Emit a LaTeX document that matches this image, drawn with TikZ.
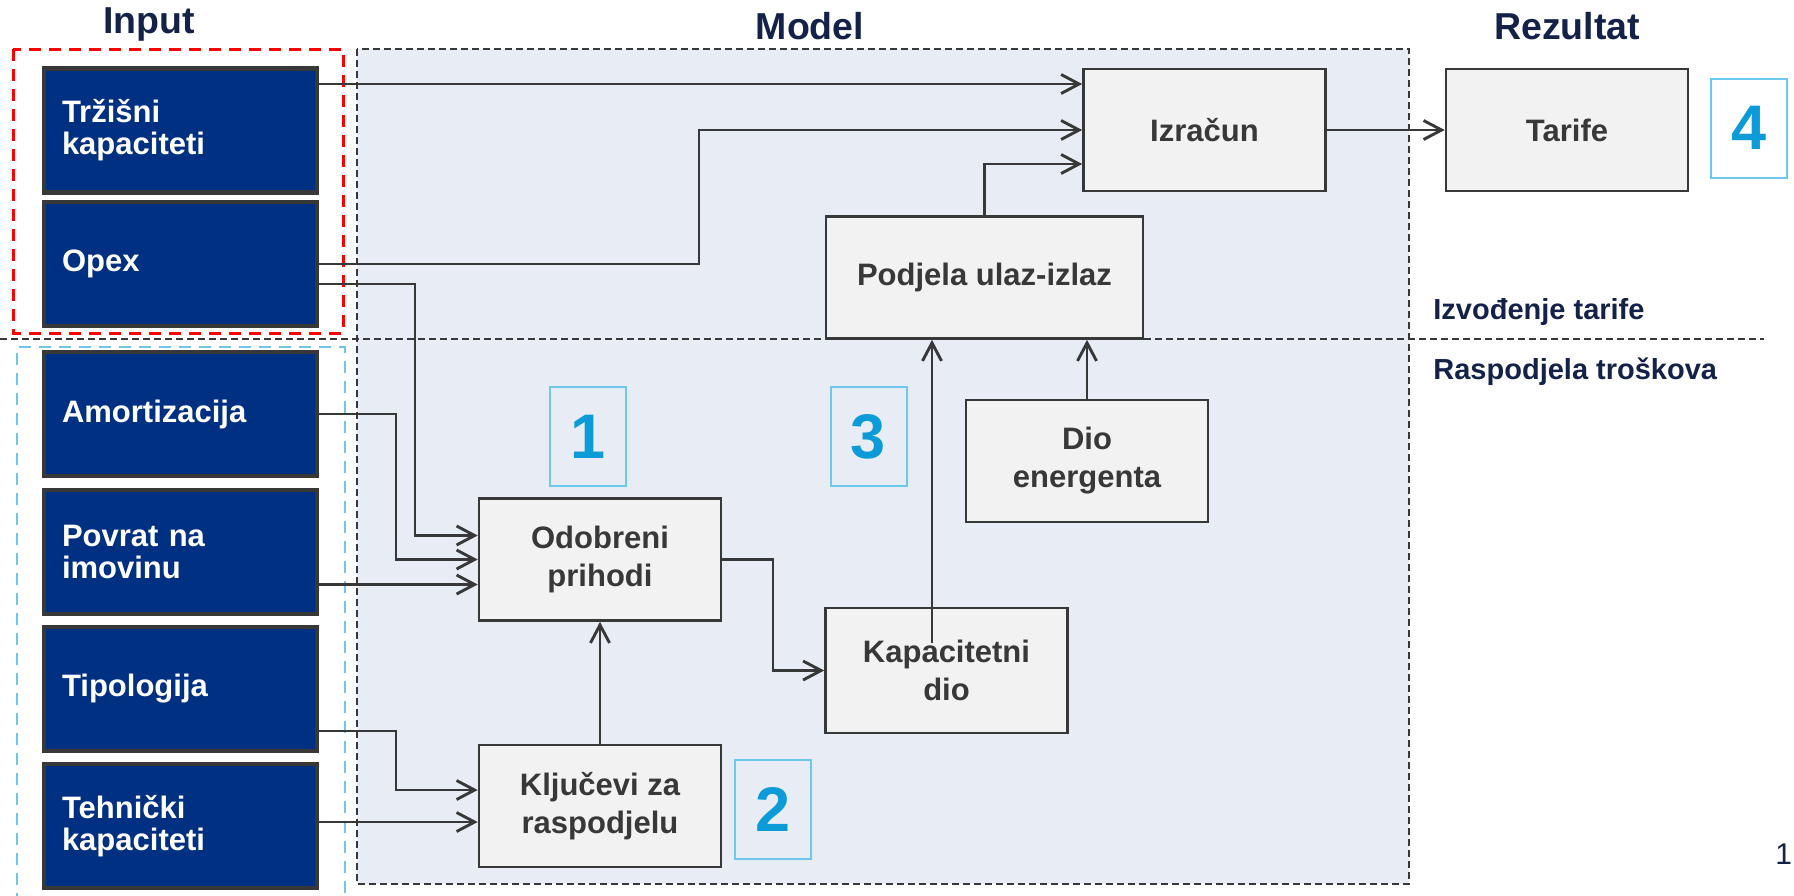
\documentclass[tikz,border=0pt]{standalone}
\usepackage{fontspec}
\setmainfont{Liberation Sans}
\usetikzlibrary{arrows.meta}

\definecolor{navyin}{HTML}{003082}
\definecolor{navytxt}{HTML}{14224A}
\definecolor{modelbg}{HTML}{E8ECF5}
\definecolor{boxgray}{HTML}{F2F2F2}
\definecolor{linegray}{HTML}{383838}
\definecolor{numblue}{HTML}{0A9BD8}
\definecolor{framblue}{HTML}{6CC8EC}

\tikzset{
  inbox/.style={draw=linegray, line width=2.2pt, fill=navyin, text=white, text width=118.5pt, inner xsep=9pt, minimum height=62pt, align=left, font=\fontsize{15.5}{16}\selectfont\bfseries},
  calcbox/.style={draw=linegray, line width=1.3pt, fill=boxgray, text=linegray, minimum width=121pt, minimum height=61pt, align=center, font=\fontsize{15.5}{19}\selectfont\bfseries},
  numbox/.style={draw=framblue, line width=1pt, text=numblue, minimum width=38pt, minimum height=49.5pt, font=\fontsize{31.5}{32}\selectfont\bfseries},
  headtxt/.style={text=navytxt, font=\fontsize{18.75}{20}\selectfont\bfseries},
  sidetxt/.style={text=navytxt, anchor=west, inner sep=0pt, font=\fontsize{14.5}{16}\selectfont\bfseries},
  arr/.style={draw=linegray, line width=1.45pt, -{Straight Barb[length=9pt,width=9.5pt]}},
  regline/.style={linegray, line width=1pt, dash pattern=on 3.5pt off 2pt}
}

\begin{document}
\begin{tikzpicture}[x=0.5pt,y=-0.5pt]
\useasboundingbox (0,0) rectangle (1794,895);

\fill[modelbg] (357,49) rectangle (1409,884);
\draw[regline] (357,49) rectangle (1409,884);
\draw[regline] (0,339) -- (1764,339);
\draw[red, line width=1.5pt, dash pattern=on 6pt off 4pt] (13,49) rectangle (343,333);
\draw[framblue, line width=1.2pt, dash pattern=on 6pt off 4pt] (17,905) -- (17,347) -- (345,347) -- (345,905);

\node[headtxt] (tin) at (149,24) {Input};
\node[headtxt] (tmod) at (810,26) {Model};
\node[headtxt] (tres) at (1567,26) {Rezultat};

\node[inbox] (trz) at (180.5,130.5) {Tržišni\\kapaciteti};
\node[inbox] (opex) at (180.5,264) {Opex};
\node[inbox] (amort) at (180.5,414) {Amortizacija};
\node[inbox] (povrat) at (180.5,552) {Povrat na\\imovinu};
\node[inbox] (tipol) at (180.5,689) {Tipologija};
\node[inbox] (tehn) at (180.5,826) {Tehnički\\kapaciteti};

\node[calcbox] (izr) at (1204.5,130) {Izračun};
\node[calcbox] (tar) at (1567,130) {Tarife};
\node[calcbox, minimum width=158.5pt] (pod) at (984.5,277.5) {Podjela ulaz-izlaz};
\node[calcbox] (dio) at (1087,461) {Dio\\energenta};
\node[calcbox] (odob) at (600,559.5) {Odobreni\\prihodi};
\node[calcbox, minimum height=62.5pt] (kap) at (946.5,670.5) {Kapacitetni\\dio};
\node[calcbox] (klj) at (600,806) {Ključevi za\\raspodjelu};

\node[numbox] (n1) at (588,436.5) {1};
\node[numbox] (n2) at (773,809.5) {2};
\node[numbox] (n3) at (868.5,436.5) {3};
\node[numbox] (n4) at (1749,128) {4};

\node[sidetxt] (izv) at (1433,312) {Izvođenje tarife};
\node[sidetxt] (rasp) at (1433,372) {Raspodjela troškova};
\node[anchor=west, inner sep=0pt, text=navytxt, font=\fontsize{15}{16}\selectfont] (pg) at (1775,854) {1};

\coordinate (izrA) at ([yshift=23pt]izr.west);
\coordinate (izrC) at ([yshift=-17pt]izr.west);
\coordinate (odobA) at ([yshift=12pt]odob.west);
\coordinate (odobC) at ([yshift=-12.5pt]odob.west);
\coordinate (kljA) at ([yshift=8pt]klj.west);
\coordinate (kljB) at ([yshift=-8pt]klj.west);
\coordinate (kaptop) at (932,643);

\draw[arr] (trz.east |- izrA) -- (izrA);
\draw[arr] (opex.east) -- (699,264) |- (izr.west);
\draw[arr] ([yshift=-10pt]opex.east) -- (415,284) |- (odobA);
\draw[arr] (amort.east) -- (396,414) |- (odob.west);
\draw[arr] (povrat.east |- odobC) -- (odobC);
\draw[arr] ([yshift=-21pt]tipol.east) -- (396,731) |- (kljA);
\draw[arr] (tehn.east |- kljB) -- (kljB);
\draw[arr] (klj.north) -- (odob.south);
\draw[arr] (odob.east) -- (773,559.5) |- (kap.west);
\draw[arr] (kaptop) -- (kaptop |- pod.south);
\draw[arr] (dio.north) -- (dio.north |- pod.south);
\draw[arr] (pod.north) |- (izrC);
\draw[arr] (izr.east) -- (tar.west);
\end{tikzpicture}
\end{document}
